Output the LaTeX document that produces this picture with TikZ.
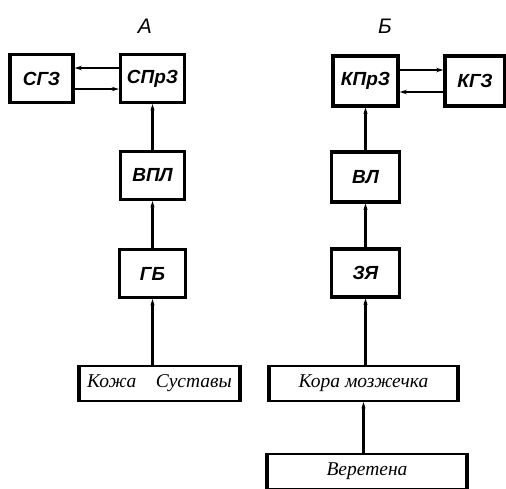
\documentclass[tikz,border=0pt]{standalone}
\usepackage{fontspec}
\setmainfont{Liberation Sans}
\newfontfamily\serifit{Liberation Serif}
\usetikzlibrary{positioning, arrows.meta}

\tikzset{
  blok/.style={draw, line width=3.4pt, minimum width=64pt, minimum height=48pt,
    inner sep=0pt, font=\fontsize{19}{19}\selectfont\bfseries\itshape},
  dlblok/.style={draw, line width=2.4pt, minimum height=35pt, inner sep=0pt,
    font=\fontsize{19.5}{19.5}\selectfont\serifit\itshape},
  bort/.style={line width=4pt},
  svaz/.style={line width=2.2pt, -{Stealth[length=6pt,width=4pt]}},
  bok/.style={line width=1.6pt, -{Stealth[length=7pt,width=4.5pt]}},
  zagl/.style={font=\fontsize{21}{21}\selectfont\itshape},
}

\begin{document}
\begin{tikzpicture}[x=1pt, y=-1pt, node distance=97pt]
\useasboundingbox (0,0) rectangle (506,488);

    % A
    \node[zagl] (tA) at (145,26) {А};
    \node[blok] (sprz) at (152.5,78.5) {СПрЗ};
    \node[blok, minimum width=63pt] (sgz) at (41.5,78.5) {СГЗ};
    \node[blok, below of=sprz] (vpl) {ВПЛ};
    \node[blok, minimum width=66pt, below of=vpl, yshift=-1pt] (gb) {ГБ};
    \node[dlblok, minimum width=159pt] (kozha) at (159.5,383.5) {Кожа\quad Суставы};

    % Б
    \node[zagl] (tB) at (385,26) {Б};
    \node[blok, minimum width=65pt, minimum height=50pt] (kprz) at (365.5,81) {КПрЗ};
    \node[blok, minimum width=60pt, minimum height=50pt] (kgz) at (475,81) {КГЗ};
    \node[blok, minimum width=68pt, minimum height=50pt, below of=kprz, yshift=1pt] (vl) {ВЛ};
    \node[blok, minimum width=68pt, below of=vl, yshift=1pt] (zya) {ЗЯ};
    \node[dlblok, minimum width=187pt] (kora) at (363.5,383.5) {Кора мозжечка};
    \node[dlblok, minimum width=198pt] (vereten) at (367,471.5) {Веретена};

    % thick side edges of the long boxes
    \foreach \b in {kozha, kora, vereten} {
      \draw[bort] (\b.north west) -- (\b.south west);
      \draw[bort] (\b.north east) -- (\b.south east);
    }

    \draw[bok] ([yshift=10.5pt]sprz.west) -- ([yshift=10.5pt]sgz.east);
    \draw[bok] ([yshift=-10.5pt]sgz.east) -- ([yshift=-10.5pt]sprz.west);
    \draw[svaz] (vpl) -- (sprz);
    \draw[svaz] (gb) -- (vpl);
    \draw[svaz] (kozha.north -| gb.south) -- (gb);

    \draw[bok] ([yshift=11pt]kprz.east) -- ([yshift=11pt]kgz.west);
    \draw[bok] ([yshift=-11pt]kgz.west) -- ([yshift=-11pt]kprz.east);
    \draw[svaz] (vl) -- (kprz);
    \draw[svaz] (zya) -- (vl);
    \draw[svaz] (kora.north -| zya.south) -- (zya);
    \draw[svaz] (vereten.north -| kora.south) -- (kora);
\end{tikzpicture}
\end{document}
